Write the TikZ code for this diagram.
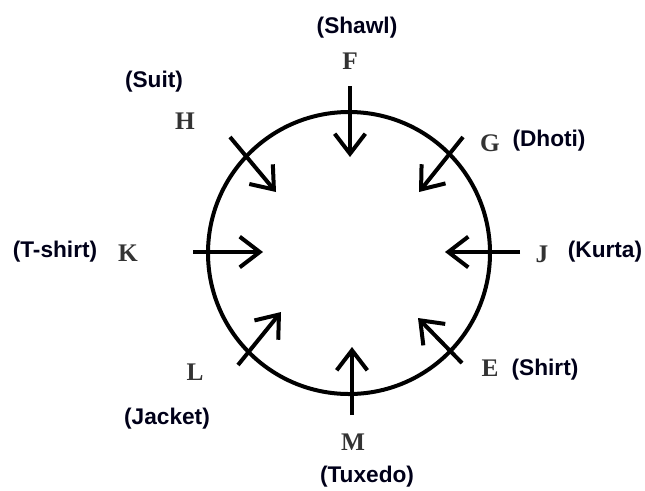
\documentclass[tikz,border=0pt]{standalone}
\usepackage{fontspec}
\setmainfont{Liberation Serif}
\setsansfont{Liberation Sans}
\usetikzlibrary{arrows.meta}
\tikzset{
  letter/.style={font=\fontsize{19pt}{20pt}\selectfont\bfseries, text=black!80, inner sep=0pt},
  cloth/.style={font=\sffamily\bfseries\fontsize{17pt}{18pt}\selectfont, text=black!90!blue, inner sep=0pt},
  arr/.style={line width=3pt, -{Straight Barb[length=15pt,width=23pt,line width=3pt]}},
}
\begin{document}
\begin{tikzpicture}[x=0.75pt,y=-0.75pt]
\useasboundingbox (0,0) rectangle (645,490);
\draw[line width=3pt] (349,253) circle[radius=141];
% letters
\node[letter] (F) at (350,61) {F};
\node[letter] (H) at (185,121) {H};
\node[letter] (G) at (490,143) {G};
\node[letter] (K) at (128,253) {K};
\node[letter] (J) at (542,254) {J};
\node[letter] (L) at (195,372) {L};
\node[letter] (E) at (490,368) {E};
\node[letter] (M) at (353,442) {M};
% clothes
\node[cloth] (shawl) at (357,28) {(Shawl)};
\node[cloth] (suit) at (154,82) {(Suit)};
\node[cloth] (dhoti) at (549,141) {(Dhoti)};
\node[cloth] (tshirt) at (55,252) {(T-shirt)};
\node[cloth] (kurta) at (605,252) {(Kurta)};
\node[cloth] (shirt) at (545,370) {(Shirt)};
\node[cloth] (jacket) at (167,419) {(Jacket)};
\node[cloth] (tuxedo) at (367,477) {(Tuxedo)};
% arrow ends
\coordinate (fs) at (350,86);  \coordinate (ft) at (350,157);
\coordinate (ms) at (352,415); \coordinate (mt) at (352,347);
\coordinate (ks) at (193,252); \coordinate (kt) at (263,252);
\coordinate (js) at (520,252); \coordinate (jt) at (445,252);
\coordinate (hs) at (230,137); \coordinate (ht) at (276,192);
\coordinate (gs) at (463,137); \coordinate (gt) at (419,192);
\coordinate (ls) at (238,365); \coordinate (lt) at (281,312);
\coordinate (es) at (462,363); \coordinate (et) at (418,318);
\draw[arr] (fs) -- (ft);
\draw[arr] (ms) -- (mt);
\draw[arr] (ks) -- (kt);
\draw[arr] (js) -- (jt);
\draw[arr] (hs) -- (ht);
\draw[arr] (gs) -- (gt);
\draw[arr] (ls) -- (lt);
\draw[arr] (es) -- (et);
\end{tikzpicture}
\end{document}
